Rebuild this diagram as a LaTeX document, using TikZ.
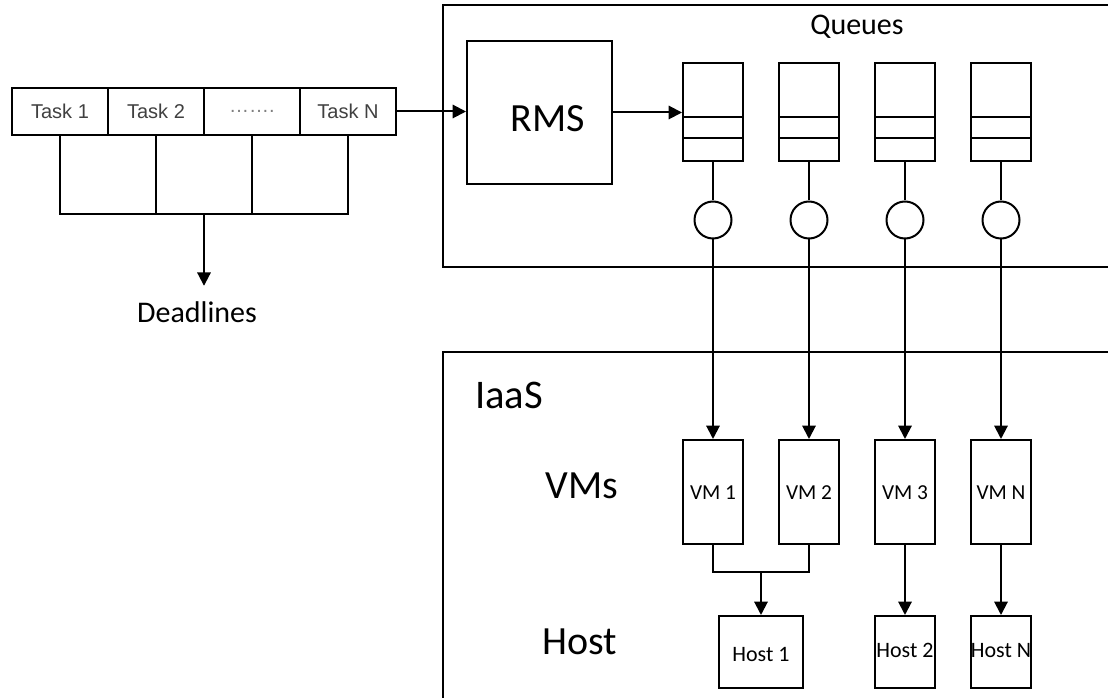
\documentclass[tikz,border=0pt]{standalone}
\usepackage{fontspec}
\setmainfont{Carlito}
\newfontfamily\arialf{Liberation Sans}
\usetikzlibrary{arrows.meta,calc,shapes.geometric}
\newcommand\myfs[1]{\fontsize{#1}{#1}\selectfont}
\tikzset{
  box/.style={draw, rectangle, inner sep=0pt},
  lbl/.style={inner sep=0pt, text=black},
  taskbox/.style={box, minimum width=72pt, minimum height=35.25pt, font=\arialf\myfs{15pt}, text=black!75},
  queuebox/.style={box, minimum width=45pt, minimum height=73.5pt,
    path picture={
      \draw ($(path picture bounding box.north west)!0.551!(path picture bounding box.south west)$) --
            ($(path picture bounding box.north east)!0.551!(path picture bounding box.south east)$);
      \draw ($(path picture bounding box.north west)!0.765!(path picture bounding box.south west)$) --
            ($(path picture bounding box.north east)!0.765!(path picture bounding box.south east)$);
    }},
  srv/.style={draw, circle, inner sep=0pt, minimum size=27.75pt},
  vmbox/.style={box, minimum width=45pt, minimum height=78pt, font=\myfs{16pt}, text height=11pt, text depth=0pt},
  hostbox/.style={box, minimum width=45pt, minimum height=54pt, font=\myfs{16.5pt}, text height=11.5pt, text depth=0pt},
  arr/.style={-{Triangle[length=10pt,width=10pt]}}
}
\begin{document}
\begin{tikzpicture}[x=0.75pt,y=-0.75pt,line width=1.5pt]
\useasboundingbox (0,0) rectangle (1108,698);

% container frames (open to the right / bottom)
\draw (1112,5) -- (443,5) -- (443,267) -- (1112,267);
\draw (1112,352) -- (443,352) -- (443,702);

% tasks
\node[taskbox] (t1) at (60,111.5) {Task 1};
\node[taskbox] (t2) at (156,111.5) {Task 2};
\node[taskbox, text=black!50] (t3) at (252,111.5) {…….};
\node[taskbox] (tN) at (348,111.5) {Task N};

% deadlines bracket
\coordinate (bm) at (204,214);
\draw (t1.south) -- (t1.south |- bm) -- (tN.south |- bm) -- (tN.south);
\draw (t2.south) -- (t2.south |- bm);
\draw (t3.south) -- (t3.south |- bm);
\node[lbl, font=\myfs{22.5pt}, inner ysep=11pt] (dl) at (197,312) {Deadlines};
\draw[arr] (bm) -- (bm |- dl.north);

% RMS
\node[box, minimum width=108.75pt, minimum height=107.25pt] (rms) at (539.5,112.5) {};
\node[lbl, font=\myfs{30pt}] (rmst) at (547.5,118.5) {RMS};
\draw[arr] (tN.east) -- (tN.east -| rms.west);

\node[lbl, font=\myfs{22.5pt}] (qlbl) at (857,27) {Queues};

% queues, servers, VMs
\foreach \i/\x/\l in {1/713/VM 1, 2/809/VM 2, 3/905/VM 3, 4/1001/VM N}{
  \node[queuebox] (q\i) at (\x,112) {};
  \node[srv] (c\i) at (\x,220) {};
  \node[vmbox] (v\i) at (\x,492) {\l};
  \draw (q\i) -- (c\i);
  \draw[arr] (c\i) -- (v\i);
}
\draw[arr] (rms.east) -- (rms.east -| q1.west);

% IaaS labels
\node[lbl, font=\myfs{30.5pt}] (iaas) at (509,395) {IaaS};
\node[lbl, font=\myfs{30pt}] (vms) at (582,486) {VMs};
\node[lbl, font=\myfs{30pt}] (hostl) at (579.5,642) {Host};

% hosts
\node[hostbox, minimum width=63pt] (h1) at (761,652) {\raisebox{-1.5pt}{Host 1}};
\node[hostbox] (h2) at (905,652) {\raisebox{1.5pt}{Host 2}};
\node[hostbox] (hN) at (1001,652) {\raisebox{1.5pt}{Host N}};

% VM -> host
\coordinate (j) at (761,572);
\draw (v1.south) -- (v1.south |- j) -- (v2.south |- j) -- (v2.south);
\draw[arr] (j) -- (h1.north);
\draw[arr] (v3) -- (h2);
\draw[arr] (v4) -- (hN);
\end{tikzpicture}
\end{document}
